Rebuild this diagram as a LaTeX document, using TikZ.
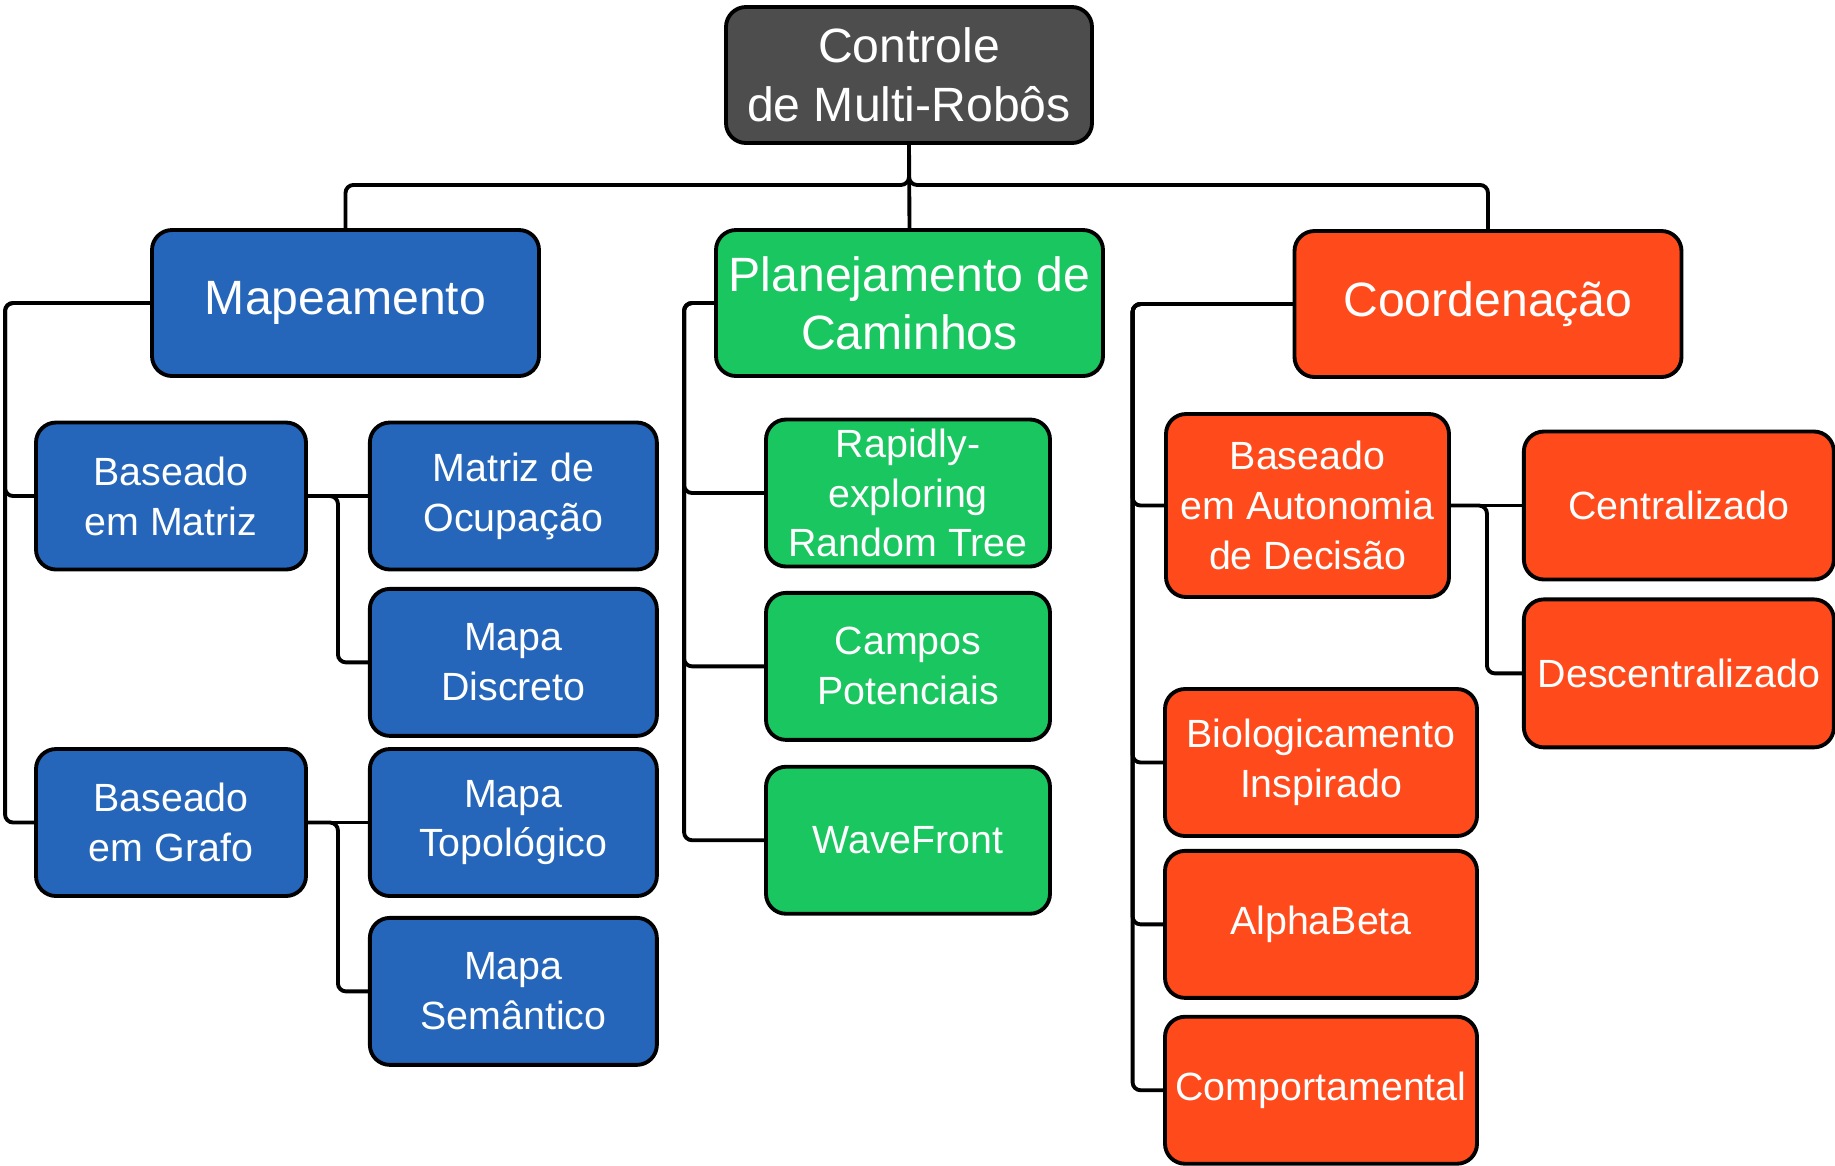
\documentclass[tikz,border=0pt]{standalone}
\usepackage{fontspec}
\setmainfont{Liberation Sans}
\usepackage{tikz}
\usetikzlibrary{positioning}
\definecolor{rootgray}{HTML}{4D4D4D}
\definecolor{mapblue}{HTML}{2566BA}
\definecolor{pathgreen}{HTML}{1AC65F}
\definecolor{coordred}{HTML}{FF4A1C}

\begin{document}
\begin{tikzpicture}[
  box/.style={draw, line width=1.1pt, rounded corners=2mm, align=center, text=white, inner sep=0pt},
  topbox/.style={box, minimum width=3.87cm, minimum height=1.46cm, font=\fontsize{13.7}{16.5}\selectfont},
  subbox/.style={box, minimum height=1.47cm, font=\fontsize{11.2}{14.2}\selectfont},
  conn/.style={draw, line width=1.1pt, rounded corners=0.8mm},
  node distance=1.6mm and 6mm
]
\useasboundingbox (0,0) rectangle (18.35,-11.65);

\node[topbox, fill=rootgray, minimum width=3.66cm, minimum height=1.36cm, font=\fontsize{13.7}{16.8}\selectfont] (root) at (9.09,-0.75) {Controle\\de Multi-Robôs};

% level 1
\node[topbox, fill=mapblue] (map) at (3.455,-3.03) {Mapeamento};
\node[topbox, fill=pathgreen] (plan) at (9.095,-3.03) {Planejamento de\\Caminhos};
\node[topbox, fill=coordred] (coord) at (14.88,-3.04) {Coordenação};

% mapeamento
\node[subbox, fill=mapblue, minimum width=2.70cm] (bmat) at (1.71,-4.96) {Baseado\\em Matriz};
\node[subbox, fill=mapblue, minimum width=2.87cm, right=of bmat] (ocup) {Matriz de\\Ocupação};
\node[subbox, fill=mapblue, minimum width=2.87cm, below=1.55mm of ocup] (disc) {Mapa\\Discreto};
\node[subbox, fill=mapblue, minimum width=2.70cm] (bgraf) at (1.71,-8.225) {Baseado\\em Grafo};
\node[subbox, fill=mapblue, minimum width=2.87cm, right=of bgraf] (topo) {Mapa\\Topológico};
\node[subbox, fill=mapblue, minimum width=2.87cm, below=1.8mm of topo] (sem) {Mapa\\Semântico};

% planejamento
\node[subbox, fill=pathgreen, minimum width=2.84cm] (rrt) at (9.08,-4.93) {Rapidly-\\exploring\\Random Tree};
\node[subbox, fill=pathgreen, minimum width=2.84cm, below=2.25mm of rrt] (campos) {Campos\\Potenciais};
\node[subbox, fill=pathgreen, minimum width=2.84cm, below=2.3mm of campos] (wave) {WaveFront};

% coordenacao
\node[subbox, fill=coordred, minimum width=2.83cm, minimum height=1.83cm] (auton) at (13.075,-5.055) {Baseado\\em Autonomia\\de Decisão};
\node[subbox, fill=coordred, minimum width=3.10cm, minimum height=1.48cm, right=7.1mm of auton] (cent) {Centralizado};
\node[subbox, fill=coordred, minimum width=3.10cm, minimum height=1.48cm, below=1.6mm of cent] (desc) {Descentralizado};
\node[subbox, fill=coordred, minimum width=3.12cm] (bio) at (13.21,-7.625) {Biologicamento\\Inspirado};
\node[subbox, fill=coordred, minimum width=3.12cm, below=1.1mm of bio] (alpha) {AlphaBeta};
\node[subbox, fill=coordred, minimum width=3.12cm, below=1.5mm of alpha] (comp) {Comportamental};

% connectors
\draw[conn] (root.south) -- ++(0,-0.40) -| (map.north);
\draw[conn] (root.south) -- ++(0,-0.40) -| (coord.north);
\draw[conn] (root.south) -- (plan.north);

\draw[conn] (map.west) -- ++(-1.45,0) |- (bmat.west);
\draw[conn] (map.west) -- ++(-1.45,0) |- (bgraf.west);
\draw[conn] (bmat.east) -- (ocup.west);
\draw[conn] (bmat.east) -- ++(0.30,0) |- (disc.west);
\draw[conn] (bgraf.east) -- (topo.west);
\draw[conn] (bgraf.east) -- ++(0.30,0) |- (sem.west);

\draw[conn] (plan.west) -- ++(-0.30,0) |- (rrt.west);
\draw[conn] (plan.west) -- ++(-0.30,0) |- (campos.west);
\draw[conn] (plan.west) -- ++(-0.30,0) |- (wave.west);

\draw[conn] (coord.west) -- ++(-1.60,0) |- (auton.west);
\draw[conn] (coord.west) -- ++(-1.60,0) |- (bio.west);
\draw[conn] (coord.west) -- ++(-1.60,0) |- (alpha.west);
\draw[conn] (coord.west) -- ++(-1.60,0) |- (comp.west);
\draw[conn] (auton.east) -- (cent.west);
\draw[conn] (auton.east) -- ++(0.36,0) |- (desc.west);
\end{tikzpicture}
\end{document}
